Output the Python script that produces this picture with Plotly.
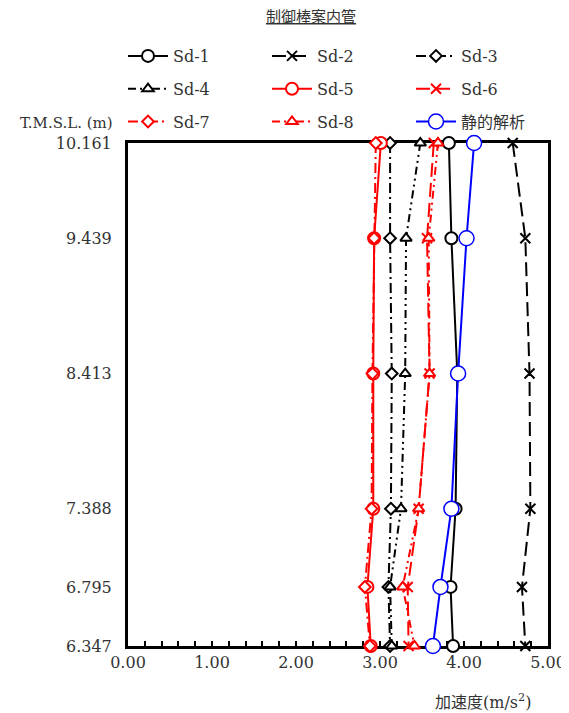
import plotly.graph_objects as go

heights = [10.161, 9.439, 8.413, 7.388, 6.795, 6.347]
height_labels = ["10.161", "9.439", "8.413", "7.388", "6.795", "6.347"]

sd1 = [3.82, 3.85, 3.92, 3.90, 3.84, 3.87]
sd2 = [4.58, 4.73, 4.78, 4.79, 4.69, 4.73]
sd3 = [3.12, 3.12, 3.14, 3.13, 3.10, 3.12]
sd4 = [3.48, 3.31, 3.30, 3.25, 3.12, 3.14]
sd5 = [3.01, 2.93, 2.92, 2.92, 2.85, 2.89]
sd6 = [3.64, 3.56, 3.59, 3.46, 3.33, 3.34]
sd7 = [2.95, 2.93, 2.91, 2.90, 2.82, 2.88]
sd8 = [3.69, 3.58, 3.59, 3.46, 3.27, 3.41]
static = [4.12, 4.03, 3.93, 3.85, 3.72, 3.63]

FONT = "DejaVu Serif, Noto Sans CJK JP"
TXT = "#333333"

series = [
    ("Sd-1", sd1, "black", "solid", "circle", 12, "legend"),
    ("Sd-4", sd4, "black", "8px,4px,2px,4px,2px,4px", "triangle-up", 10, "legend"),
    ("Sd-7", sd7, "red", "10px,4px,2px,4px", "diamond", 9, "legend"),
    ("Sd-2", sd2, "black", "14px,6px", "x-thin", 10, "legend2"),
    ("Sd-5", sd5, "red", "solid", "circle", 12, "legend2"),
    ("Sd-8", sd8, "red", "8px,4px,2px,4px,2px,4px", "triangle-up", 10, "legend2"),
    ("Sd-3", sd3, "black", "10px,4px,2px,4px", "diamond", 9, "legend3"),
    ("Sd-6", sd6, "red", "14px,6px", "x-thin", 10, "legend3"),
    ("静的解析", static, "blue", "solid", "circle", 15, "legend3"),
]
order = ["Sd-1", "Sd-2", "Sd-3", "Sd-4", "Sd-5", "Sd-6", "Sd-7", "Sd-8", "静的解析"]
byname = {s[0]: s for s in series}

fig = go.Figure()
for name in order:
    nm, vals, col, dash, sym, size, leg = byname[name]
    is_x = sym.startswith("x")
    fig.add_trace(go.Scatter(
        x=vals, y=heights, name=nm, mode="lines+markers",
        line=dict(color=col, width=2, dash=dash),
        marker=dict(symbol=sym, size=size,
                    color=col if is_x else "white",
                    line=dict(color=col, width=1.5 if name == "静的解析" else 2)),
        legend=leg, legendgroup=nm, cliponaxis=False,
    ))

L, T = 120, 135  # plot-area origin in figure coords
legcommon = dict(orientation="v", xanchor="left", yanchor="top",
                 font=dict(family=FONT, size=16, color=TXT),
                 bgcolor="rgba(0,0,0,0)", itemwidth=40, tracegroupgap=9,
                 traceorder="grouped")
y0 = (645 - 38) / 503
fig.update_layout(
    width=569, height=713,
    margin=dict(l=L, r=569 - L - 420, t=T, b=713 - T - 503, autoexpand=False),
    paper_bgcolor="white", plot_bgcolor="white",
    font=dict(family=FONT, size=16, color=TXT),
    legend=dict(x=(115 - L) / 420, y=y0, **legcommon),
    legend2=dict(x=(259 - L) / 420, y=y0, **legcommon),
    legend3=dict(x=(403 - L) / 420, y=y0, **legcommon),
    xaxis=dict(range=[0, 5], dtick=1, tickformat=".2f", showgrid=False,
               zeroline=False, showline=True, mirror=True, linewidth=3,
               linecolor="black", ticks="inside", ticklen=5, tickwidth=2,
               tickcolor="black", layer="below traces",
               minor=dict(dtick=0.2, ticks="inside", ticklen=5, tickwidth=2,
                          tickcolor="black", showgrid=False),
               tickfont=dict(family=FONT, size=16, color=TXT)),
    yaxis=dict(range=[6.347, 10.161], tickvals=heights, ticktext=height_labels,
               showgrid=False, zeroline=False, showline=True, mirror=True,
               linewidth=3, linecolor="black", ticks="", layer="below traces",
               ticklabelstandoff=10,
               tickfont=dict(family=FONT, size=16, color=TXT)),
    annotations=[
        dict(text="<u>制御棒案内管</u>", xref="paper", yref="paper",
             x=(310 - 127) / 420, y=(645 - 16) / 503, showarrow=False,
             xanchor="center", yanchor="middle",
             font=dict(family=FONT, size=15, color=TXT)),
        dict(text="T.M.S.L. (m)", xref="paper", yref="paper",
             x=(114 - 127) / 420, y=(645 - 122) / 503, xanchor="right",
             yanchor="middle",
             showarrow=False, font=dict(family=FONT, size=15, color=TXT)),
        dict(text="加速度(m/s<sup>2</sup>)", xref="paper", yref="paper",
             x=(482 - 127) / 420, y=(645 - 700) / 503, showarrow=False,
             xanchor="center", yanchor="middle",
             font=dict(family=FONT, size=16, color=TXT)),
    ],
)

fig.write_html("out.html")
